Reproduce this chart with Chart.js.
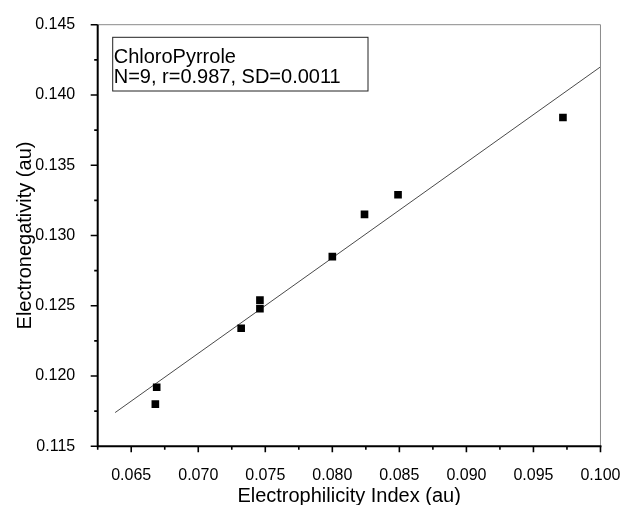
<!DOCTYPE html>
<html>
<head>
<meta charset="utf-8">
<script src="https://cdn.jsdelivr.net/npm/chart.js@4.4.1/dist/chart.umd.min.js"></script>
<style>
  html, body { margin: 0; padding: 0; background: #fff; }
  #wrap { width: 632px; height: 505px; }
</style>
</head>
<body>
<div id="wrap"><canvas id="chart" width="632" height="505"></canvas></div>
<script>
/* ---- dados ---- */
const electrophilicity = [0.0668, 0.0669, 0.0732, 0.0746, 0.0746, 0.0800, 0.0824, 0.0849, 0.0972];
const electronegativity = [0.1180, 0.1192, 0.1234, 0.1248, 0.1254, 0.1285, 0.1315, 0.1329, 0.1384];

// reta de ajuste (extremos)
const fitX = [0.0638, 0.1000];
const fitY = [0.1174, 0.1420];

const xRange = [0.0625, 0.100];
const yRange = [0.115, 0.145];
const tickStep = 0.0025;

const noteLines = ["ChloroPyrrole", "N=9, r=0.987, SD=0.0011"];
const xTitle = "Electrophilicity Index (au)";
const yTitle = "Electronegativity (au)";

const FONT = "'Liberation Sans', Arial, sans-serif";

function isMajor(v) {
  return Math.round(v * 10000) % 50 === 0;
}

/* ---- moldura, eixos e marcas ---- */
const frameTicks = {
  id: "frameTicks",
  afterDraw(chart) {
    const { ctx, chartArea: a, scales: { x, y } } = chart;
    ctx.save();

    // topo e direita (cinza)
    ctx.strokeStyle = "#8a8a8a";
    ctx.lineWidth = 1;
    ctx.beginPath();
    ctx.moveTo(a.left, a.top);
    ctx.lineTo(a.right, a.top);
    ctx.lineTo(a.right, a.bottom);
    ctx.stroke();

    // eixos esquerdo e inferior
    ctx.strokeStyle = "#000";
    ctx.lineWidth = 2;
    ctx.beginPath();
    ctx.moveTo(a.left, a.top);
    ctx.lineTo(a.left, a.bottom);
    ctx.lineTo(a.right + 1, a.bottom);
    ctx.stroke();

    // marcas
    ctx.lineWidth = 1.6;
    ctx.beginPath();
    x.ticks.forEach((t) => {
      const px = x.getPixelForValue(t.value);
      const len = isMajor(t.value) ? 6 : 3.5;
      ctx.moveTo(px, a.bottom);
      ctx.lineTo(px, a.bottom + len);
    });
    y.ticks.forEach((t) => {
      const py = y.getPixelForValue(t.value);
      const len = isMajor(t.value) ? 7 : 3.5;
      ctx.moveTo(a.left, py);
      ctx.lineTo(a.left - len, py);
    });
    ctx.stroke();
    ctx.restore();
  }
};

/* ---- caixa de texto ---- */
const noteBox = {
  id: "noteBox",
  afterDraw(chart) {
    const { ctx, chartArea: a } = chart;
    const left = a.left + 15;
    const top = a.top + 12.6;
    const w = 255.3;
    const h = 53.7;
    ctx.save();
    ctx.fillStyle = "#fff";
    ctx.fillRect(left, top, w, h);
    ctx.strokeStyle = "#222";
    ctx.lineWidth = 1;
    ctx.strokeRect(left, top, w, h);
    ctx.fillStyle = "#000";
    ctx.font = "20px " + FONT;
    ctx.textBaseline = "alphabetic";
    ctx.textAlign = "left";
    noteLines.forEach((t, i) => ctx.fillText(t, left + 1, top + 26 + i * 20));
    ctx.restore();
  }
};

const points = electrophilicity.map((v, i) => ({ x: v, y: electronegativity[i] }));
const fitLine = fitX.map((v, i) => ({ x: v, y: fitY[i] }));

new Chart(document.getElementById("chart"), {
  type: "scatter",
  data: {
    datasets: [
      {
        label: "ChloroPyrrole",
        data: points,
        pointStyle: "rect",
        pointRadius: 5.4,
        pointHoverRadius: 5.4,
        borderWidth: 0,
        backgroundColor: "#000",
        borderColor: "#000"
      },
      {
        label: "fit",
        data: fitLine,
        showLine: true,
        pointRadius: 0,
        borderColor: "#4a4a4a",
        borderWidth: 1,
        fill: false
      }
    ]
  },
  options: {
    responsive: false,
    animation: false,
    layout: { padding: { top: 24.7, right: 21.3, left: 0, bottom: 0 } },
    plugins: {
      legend: { display: false },
      tooltip: { enabled: false }
    },
    scales: {
      x: {
        type: "linear",
        min: xRange[0],
        max: xRange[1],
        grid: { display: false },
        border: { display: false },
        afterFit: (s) => { s.height = 58.7; },
        ticks: {
          stepSize: tickStep,
          autoSkip: false,
          maxRotation: 0,
          padding: 11.5,
          color: "#000",
          font: { family: FONT, size: 16 },
          callback: (v) => (isMajor(v) ? Number(v).toFixed(3) : "")
        },
        title: {
          display: true,
          text: xTitle,
          color: "#000",
          font: { family: FONT, size: 20, lineHeight: 0.9 },
          padding: { top: 0, bottom: 0 }
        }
      },
      y: {
        type: "linear",
        min: yRange[0],
        max: yRange[1],
        grid: { display: false },
        border: { display: false },
        afterFit: (s) => { s.width = 97.7; },
        ticks: {
          stepSize: tickStep,
          autoSkip: false,
          padding: 14.5,
          color: "#000",
          font: { family: FONT, size: 16 },
          callback: (v) => (isMajor(v) ? Number(v).toFixed(3) : "")
        },
        title: {
          display: true,
          text: yTitle,
          color: "#000",
          font: { family: FONT, size: 20 },
          padding: { top: 13, bottom: 0 }
        }
      }
    }
  },
  plugins: [frameTicks, noteBox]
});
</script>
</body>
</html>
